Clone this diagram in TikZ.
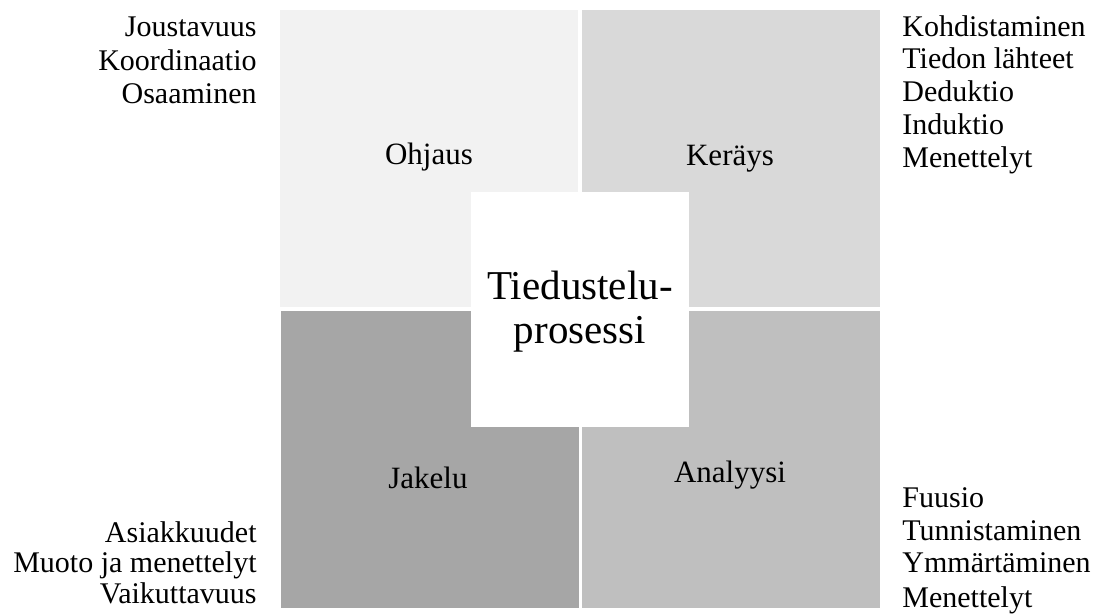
\documentclass[tikz,border=0pt]{standalone}
\usepackage{fontspec}
\setmainfont{Liberation Serif}
\usetikzlibrary{positioning}

\definecolor{ohjausgray}{HTML}{F2F2F2}
\definecolor{keraysgray}{HTML}{D9D9D9}
\definecolor{jakelugray}{HTML}{A6A6A6}
\definecolor{analyysigray}{HTML}{BFBFBF}

\tikzset{
  lbl/.style={inner sep=0pt,anchor=base,font=\fontsize{15.5}{18}\selectfont},
  side/.style={inner sep=0pt,font=\fontsize{15}{18}\selectfont},
}

\begin{document}
\begin{tikzpicture}[x=0.5pt,y=-0.5pt]
  \useasboundingbox (0,0) rectangle (1102,614);
  % four quarters
  \fill[ohjausgray] (280,10) rectangle (578,307);
  \fill[keraysgray] (582,10) rectangle (880,307);
  \fill[jakelugray] (281,311) rectangle (579,608);
  \fill[analyysigray] (582,311) rectangle (880,608);
  % middle
  \fill[white] (471,192) rectangle (689,427);
  \node[inner sep=0pt,align=center,font=\fontsize{20.5}{22}\selectfont] (prosessi) at (580,312) {Tiedustelu-\\prosessi};
  \node[lbl] (ohjaus) at (429,165) {Ohjaus};
  \node[lbl] (kerays) at (730,166) {Keräys};
  \node[lbl] (jakelu) at (428,488) {Jakelu};
  \node[lbl] (analyysi) at (730,482) {Analyysi};
  % side lists
  \foreach \t/\y [count=\i] in {Joustavuus/37,Koordinaatio/71,Osaaminen/104}
    \node[side,anchor=base east] (ohj\i) at (257,\y) {\t};
  \foreach \t/\y [count=\i] in {Kohdistaminen/37,Tiedon lähteet/69,Deduktio/102,Induktio/135,Menettelyt/168}
    \node[side,anchor=base west] (ker\i) at (902,\y) {\t};
  \foreach \t/\y [count=\i] in {Asiakkuudet/542,Muoto ja menettelyt/572,Vaikuttavuus/603}
    \node[side,anchor=base east] (jak\i) at (257,\y) {\t};
  \foreach \t/\y [count=\i] in {Fuusio/507,Tunnistaminen/540,Ymmärtäminen/572,Menettelyt/607}
    \node[side,anchor=base west] (ana\i) at (902,\y) {\t};
\end{tikzpicture}
\end{document}
